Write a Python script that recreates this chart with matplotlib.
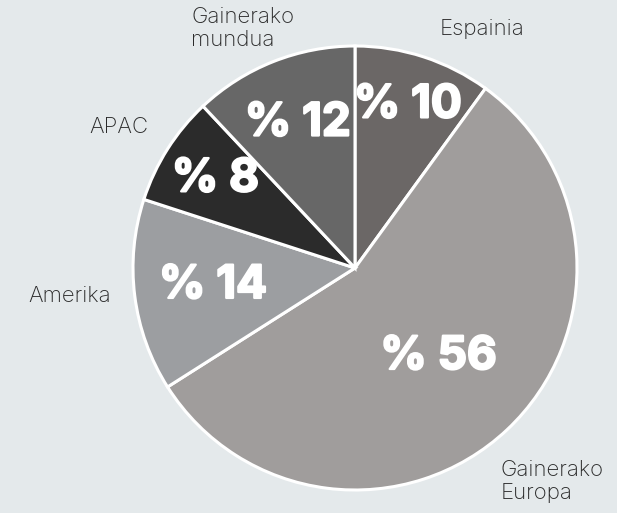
import numpy as np
import matplotlib.pyplot as plt
import matplotlib.patheffects as pe

labels = ['Espainia', 'Gainerako\nEuropa', 'Amerika', 'APAC', 'Gainerako\nmundua']
values = [10, 56, 14, 8, 12]
pct_labels = ['% 10', '% 56', '% 14', '% 8', '% 12']

colors = ['#6b6766', '#a09d9c', '#9c9ea1', '#2b2b2b', '#676767']
pct_radius = [0.77, 0.55, 0.645, 0.745, 0.70]
name_radius = [1.22, 1.31, 1.29, 1.24, 1.19]
name_angle_shift = [-10, -0.5, -1.5, 1.5, 3.5]

BG = '#e4e9eb'


def main():
    fig = plt.figure(figsize=(6.17, 5.13), dpi=100)
    fig.patch.set_facecolor(BG)
    ax = fig.add_axes([0, 0, 1, 1])
    ax.set_facecolor(BG)

    wedges, _ = ax.pie(values, colors=colors, startangle=90, counterclock=False,
                       wedgeprops=dict(edgecolor='white', linewidth=2.2))

    for i, w in enumerate(wedges):
        mid = np.deg2rad((w.theta1 + w.theta2) / 2)
        r = pct_radius[i]
        ax.text(r * np.cos(mid), r * np.sin(mid), pct_labels[i],
                ha='center', va='center', color='white', fontsize=33,
                fontweight='bold', family=['Inter', 'DejaVu Sans'],
                path_effects=[pe.withStroke(linewidth=1.6, foreground='white')])
        mid2 = mid + np.deg2rad(name_angle_shift[i])
        r2 = name_radius[i]
        ax.text(r2 * np.cos(mid2), r2 * np.sin(mid2), labels[i],
                ha='center', va='center', multialignment='left',
                color='#2a2a2a', fontsize=16, fontweight='light',
                family=['Inter', 'DejaVu Sans'], linespacing=1.2)

    # place the centre at (355, 268) px with radius 222 px
    R = 222.0
    ax.set_xlim(-355 / R, (617 - 355) / R)
    ax.set_ylim(-(513 - 268) / R, 268 / R)
    ax.set_aspect('auto')
    ax.axis('off')

    fig.savefig('out.png', dpi=100, facecolor=BG)


if __name__ == "__main__":
    main()
